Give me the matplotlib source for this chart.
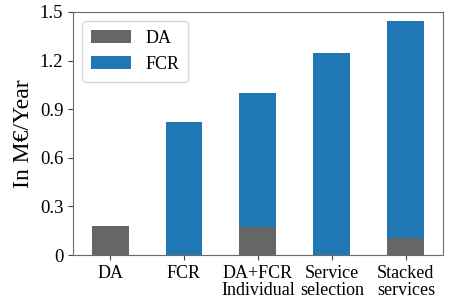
import matplotlib.pyplot as plt
import numpy as np

categories = ["DA", "FCR", "DA+FCR\nIndividual", "Service\nselection", "Stacked\nservices"]
da_values = [0.18, 0.0, 0.17, 0.0, 0.105]
fcr_values = [0.0, 0.82, 0.83, 1.247, 1.34]
ytick_vals = [0, 0.3, 0.6, 0.9, 1.2, 1.5]
ytick_labels = ["0", "0.3", "0.6", "0.9", "1.2", "1.5"]

plt.rcParams['font.family'] = ['Liberation Serif', 'DejaVu Serif']

fig, ax = plt.subplots(figsize=(4.51, 3.0), dpi=100)
x = np.arange(len(categories))
ax.bar(x, da_values, width=0.5, color='#666666', label='DA')
ax.bar(x, fcr_values, width=0.5, bottom=da_values, color='#1f77b4', label='FCR')

ax.set_xlim(-0.5, 4.5)
ax.set_ylim(0, 1.5)
ax.set_xticks(x)
ax.set_xticklabels(categories, fontsize=13, linespacing=1.0)
ax.set_yticks(ytick_vals)
ax.set_yticklabels(ytick_labels, fontsize=13.5)
ax.set_ylabel("In M€/Year", fontsize=17, labelpad=4)
for s in ax.spines.values():
    s.set_color('#6e6a66')
ax.tick_params(colors='#444444', labelcolor='black')

ax.legend(loc='upper left', fontsize=13, handlelength=2.2, borderpad=0.5)

plt.subplots_adjust(left=0.162, right=0.982, top=0.96, bottom=0.15)
plt.savefig("out.png", dpi=100)
